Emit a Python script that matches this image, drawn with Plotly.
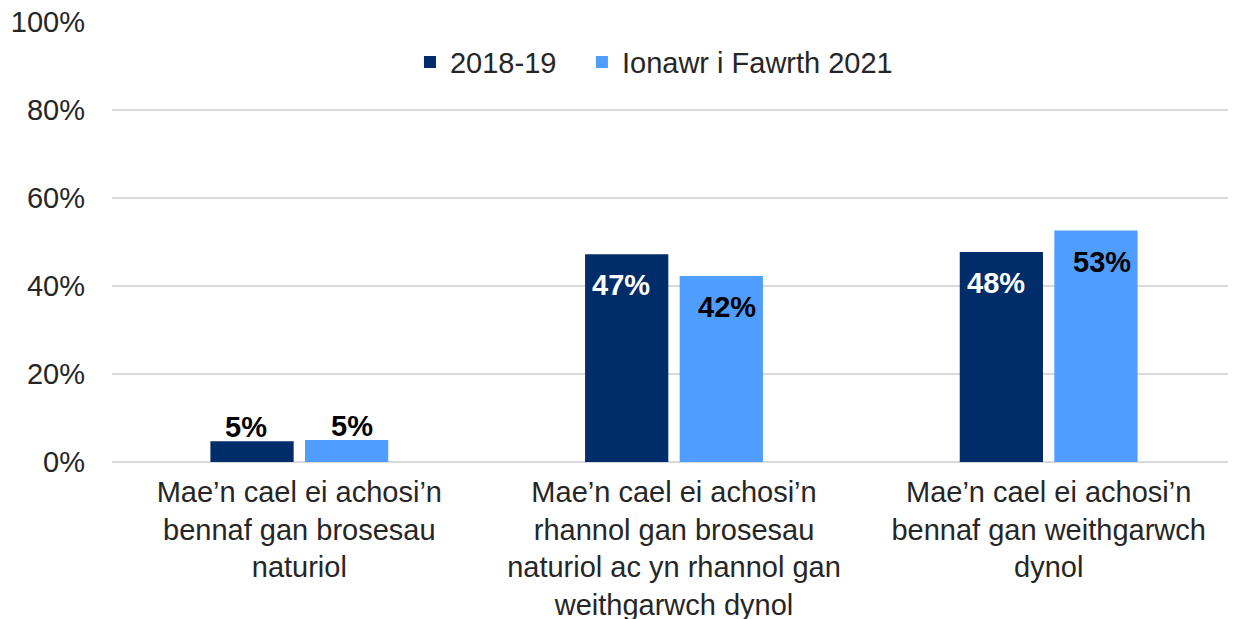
import plotly.graph_objects as go

categories = [
    "Mae’n cael ei achosi’n<br>bennaf gan brosesau<br>naturiol",
    "Mae’n cael ei achosi’n<br>rhannol gan brosesau<br>naturiol ac yn rhannol gan<br>weithgarwch dynol",
    "Mae’n cael ei achosi’n<br>bennaf gan weithgarwch<br>dynol",
]
series_names = ["2018-19", "Ionawr i Fawrth 2021"]
values_2018 = [4.7, 47.2, 47.7]
values_2021 = [5.0, 42.3, 52.6]
y_ticks = [0, 20, 40, 60, 80, 100]

dark = "#002D6A"
light = "#4F9DFF"
font_family = "Liberation Sans, Arial, sans-serif"
FS = 29

fig = go.Figure()
fig.add_trace(go.Bar(x=categories, y=values_2018, name=series_names[0], legend="legend",
                     marker=dict(color=dark, line=dict(width=0))))
fig.add_trace(go.Bar(x=categories, y=values_2021, name=series_names[1], legend="legend2",
                     marker=dict(color=light, line=dict(width=0))))

# data labels
offset_px = 53
for vals, shift, incol in [(values_2018, -offset_px, "white"), (values_2021, offset_px, "black")]:
    for cat, v in zip(categories, vals):
        inside = v > 10
        fig.add_annotation(
            x=cat, y=v, xref="x", yref="y",
            text=f"<b>{round(v)}%</b>", showarrow=False,
            xshift=shift, yshift=-31 if inside else 14,
            yanchor="middle", xanchor="center",
            font=dict(family=font_family, size=29, color=incol if inside else "black"),
        )

legend_common = dict(orientation="h", y=0.909, yanchor="middle", xanchor="left",
                     font=dict(size=FS, color="#262626"), itemwidth=30,
                     bgcolor="rgba(0,0,0,0)")

fig.update_layout(
    width=1228, height=611,
    margin=dict(l=104, r=0, t=14, b=157, autoexpand=False),
    paper_bgcolor="white", plot_bgcolor="white",
    barmode="group", bargap=0.495, bargroupgap=0.12,
    font=dict(family=font_family, size=FS, color="#262626"),
    showlegend=True,
    legend=dict(x=0.2651, **legend_common),
    legend2=dict(x=0.4181, **legend_common),
    xaxis=dict(showline=False, showgrid=False, ticks="", tickfont=dict(size=FS, color="#262626"),
               ticklabelstandoff=10, automargin=False, ticklabeloverflow="allow"),
    yaxis=dict(range=[0, 100], tickvals=y_ticks, ticktext=[f"{t}%" for t in y_ticks],
               showgrid=True, gridcolor="#D9D9D9", gridwidth=1.5, zeroline=True,
               zerolinecolor="#D9D9D9", zerolinewidth=1.5, ticks="",
               tickfont=dict(size=FS, color="#262626"), ticklabelstandoff=26,
               automargin=False, ticklabeloverflow="allow"),
)

fig.write_html("out.html")
